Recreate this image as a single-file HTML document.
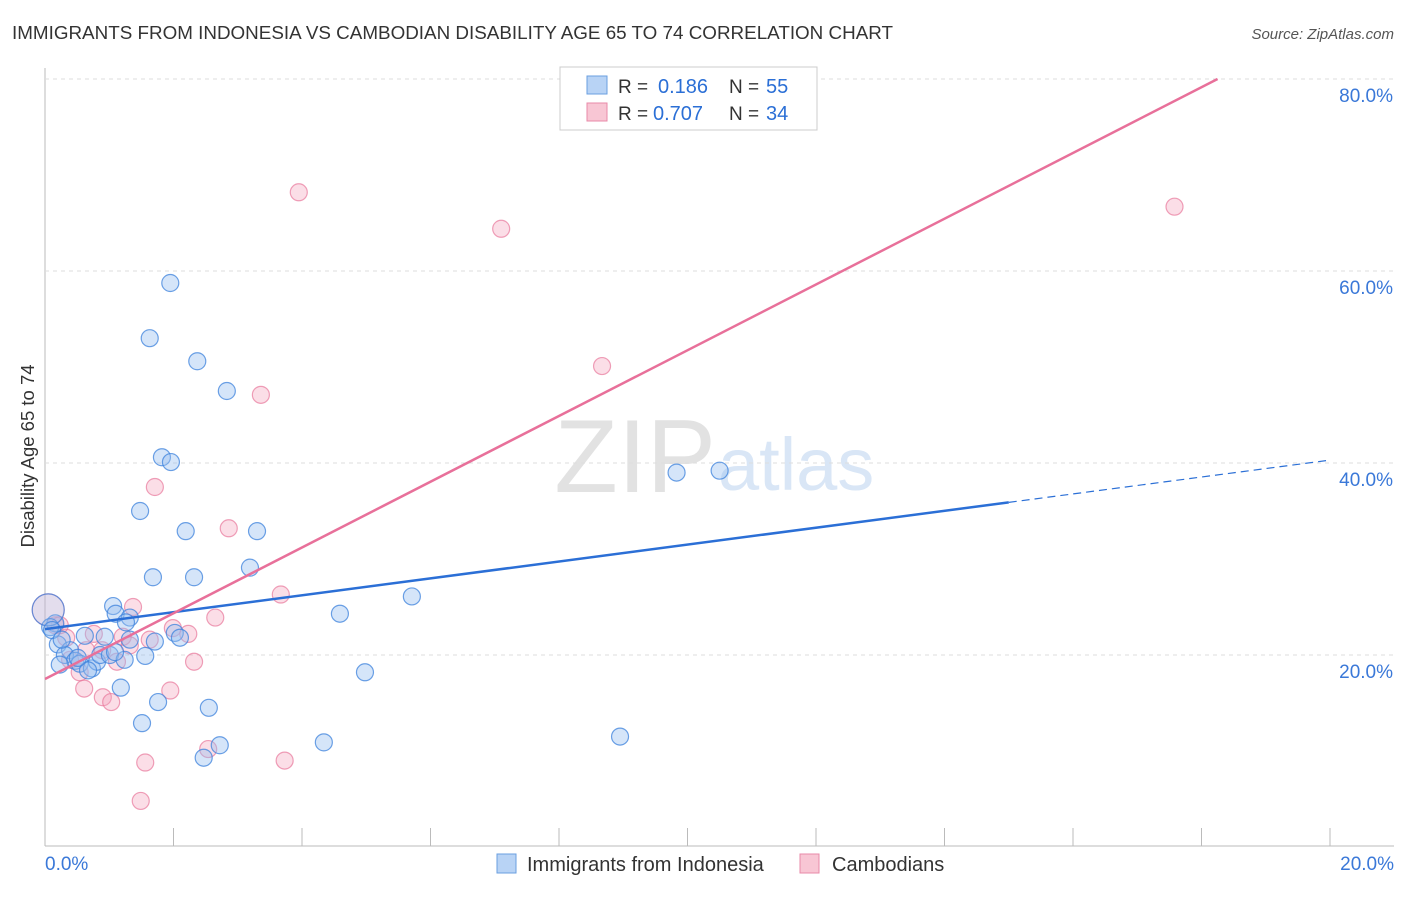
<!DOCTYPE html>
<html><head><meta charset="utf-8"><style>
body{margin:0;background:#fff;font-family:"Liberation Sans",sans-serif}
svg text{font-family:"Liberation Sans",sans-serif}
</style></head><body>
<svg id="c" width="1406" height="892">
<text x="12" y="39" font-size="18" fill="#333" textLength="881" lengthAdjust="spacingAndGlyphs">IMMIGRANTS FROM INDONESIA VS CAMBODIAN DISABILITY AGE 65 TO 74 CORRELATION CHART</text>
<text x="1394" y="39" font-size="15" fill="#555" font-style="italic" text-anchor="end">Source: ZipAtlas.com</text>
<text x="716" y="492" font-size="104" fill="#e2e2e2" text-anchor="end" font-family="Liberation Serif">ZIP</text>
<text x="718" y="490" font-size="74" fill="#d9e6f6">atlas</text>
<text x="34" y="456" font-size="18.5" fill="#333" text-anchor="middle" transform="rotate(-90 34 456)">Disability Age 65 to 74</text>
<g id="grid"></g><g id="marks"></g><g id="lines"></g>
<g>
<rect x="560" y="67" width="257" height="63" fill="#fff" stroke="#ccc"/>
<rect x="587" y="76" width="20" height="18" fill="#b8d3f5" stroke="#6a9fe0"/>
<text x="618" y="93" font-size="19" fill="#333">R = </text><text x="658" y="93" font-size="20" fill="#2b6fd6">0.186</text>
<text x="729" y="93" font-size="19" fill="#333">N = </text><text x="766" y="93" font-size="20" fill="#2b6fd6">55</text>
<rect x="587" y="103" width="20" height="18" fill="#f8c6d4" stroke="#e88aa8"/>
<text x="618" y="120" font-size="19" fill="#333">R = </text><text x="653" y="120" font-size="20" fill="#2b6fd6">0.707</text>
<text x="729" y="120" font-size="19" fill="#333">N = </text><text x="766" y="120" font-size="20" fill="#2b6fd6">34</text>
</g>
<g>
<rect x="497" y="854" width="19" height="19" fill="#b8d3f5" stroke="#6a9fe0"/>
<text x="527" y="871" font-size="20" fill="#333">Immigrants from Indonesia</text>
<rect x="800" y="854" width="19" height="19" fill="#f8c6d4" stroke="#e88aa8"/>
<text x="832" y="871" font-size="20" fill="#333">Cambodians</text>
</g>
</svg>
<script>
const blueX=[1.95,1.63,2.37,2.83,1.82,1.96,1.48,2.19,3.30,1.68,2.32,3.19,5.71,4.59,4.98,9.83,10.50,1.06,1.10,1.32,1.26,0.16,0.08,0.20,0.39,0.62,0.93,1.32,1.71,2.02,2.10,0.31,0.47,0.54,0.73,0.81,0.67,0.86,1.01,1.24,1.56,1.18,1.76,2.55,1.51,2.72,2.47,4.34,8.95,0.05,0.11,0.26,0.51,1.09,0.23];
const blueY=[58.75,53.0,50.6,47.5,40.6,40.1,35.0,32.9,32.9,28.1,28.1,29.1,26.1,24.3,18.2,39.0,39.2,25.1,24.3,23.9,23.4,23.3,22.9,21.1,20.5,22.0,21.9,21.6,21.4,22.3,21.8,20.0,19.4,19.1,18.6,19.3,18.4,20.0,20.0,19.5,19.9,16.6,15.1,14.5,12.9,10.6,9.3,10.9,11.5,24.7,22.6,21.6,19.7,20.3,19.0];
const pinkX=[3.95,7.10,17.58,8.67,3.36,1.71,2.86,3.67,1.37,2.65,1.99,2.23,1.21,1.63,0.76,0.33,0.16,0.64,0.89,1.12,0.54,2.32,0.61,0.90,1.03,1.95,2.54,1.56,3.73,1.49,0.05,0.23,0.39,1.32];
const pinkY=[68.2,64.4,66.7,50.1,47.1,37.5,33.2,26.3,25.0,23.9,22.8,22.2,21.9,21.6,22.2,21.8,23.1,20.5,20.5,19.3,18.2,19.3,16.5,15.6,15.1,16.3,10.2,8.8,9.0,4.8,24.7,23.1,19.5,21.0];
const yTicks=[20,40,60,80];
const xTickLabels=["0.0%","20.0%"];
const blueTrend=[22.7,35.9];
const pinkTrend=[17.5,80];
const NS="http://www.w3.org/2000/svg";
const sx=v=>45+v/20*1285, sy=v=>847-v*9.6;
function mk(t,a,p){const e=document.createElementNS(NS,t);for(const k in a)e.setAttribute(k,a[k]);p.appendChild(e);return e;}
const grid=document.getElementById('grid'),marks=document.getElementById('marks'),lines=document.getElementById('lines');
mk('line',{x1:45,y1:68,x2:45,y2:846,stroke:'#bbb'},grid);
mk('line',{x1:45,y1:846,x2:1394,y2:846,stroke:'#bbb'},grid);
for(let i=0;i<=10;i++){const x=45+i*128.5;const l=mk('line',{x1:x,y1:828,x2:x,y2:846,stroke:'#bbb'},grid);

}
yTicks.forEach(v=>{const l=mk('line',{x1:45,y1:sy(v),x2:1394,y2:sy(v),stroke:'#ddd','stroke-dasharray':'4 4'},grid);


const t=mk('text',{x:1393,y:sy(v)+23,'font-size':19,fill:'#3a78d8','text-anchor':'end'},grid);t.textContent=v.toFixed(1)+'%';

});
const xl=[[45,'start'],[1394,'end']];
xTickLabels.forEach((s,i)=>{const t=mk('text',{x:xl[i][0],y:870,'font-size':19,fill:'#3a78d8','text-anchor':xl[i][1]},grid);t.textContent=s;

});
pinkX.forEach((x,i)=>{const big=i==30;const c=mk('circle',{cx:sx(x),cy:sy(pinkY[i]),r:big?16:8.5,fill:big?'rgba(244,160,185,0.25)':'rgba(244,160,185,0.35)',stroke:'rgba(232,120,155,0.7)','stroke-width':1.2},marks);

});
blueX.forEach((x,i)=>{const big=i==49;const c=mk('circle',{cx:sx(x),cy:sy(blueY[i]),r:big?16:8.5,fill:big?'rgba(150,190,240,0.25)':'rgba(150,190,240,0.4)',stroke:'rgba(60,130,220,0.75)','stroke-width':1.2},marks);

});
const bSlope=(blueTrend[1]-blueTrend[0])/15;
let l=mk('line',{x1:sx(0),y1:sy(blueTrend[0]),x2:sx(15),y2:sy(blueTrend[1]),stroke:'#2b6fd6','stroke-width':2.5},lines);


l=mk('line',{x1:sx(15),y1:sy(blueTrend[1]),x2:sx(20),y2:sy(blueTrend[1]+bSlope*5),stroke:'#2b6fd6','stroke-width':1.2,'stroke-dasharray':'8 5'},lines);


l=mk('line',{x1:sx(0),y1:sy(pinkTrend[0]),x2:sx(18.25),y2:sy(pinkTrend[1]),stroke:'#e8709a','stroke-width':2.5},lines);


</script>
</body></html>
